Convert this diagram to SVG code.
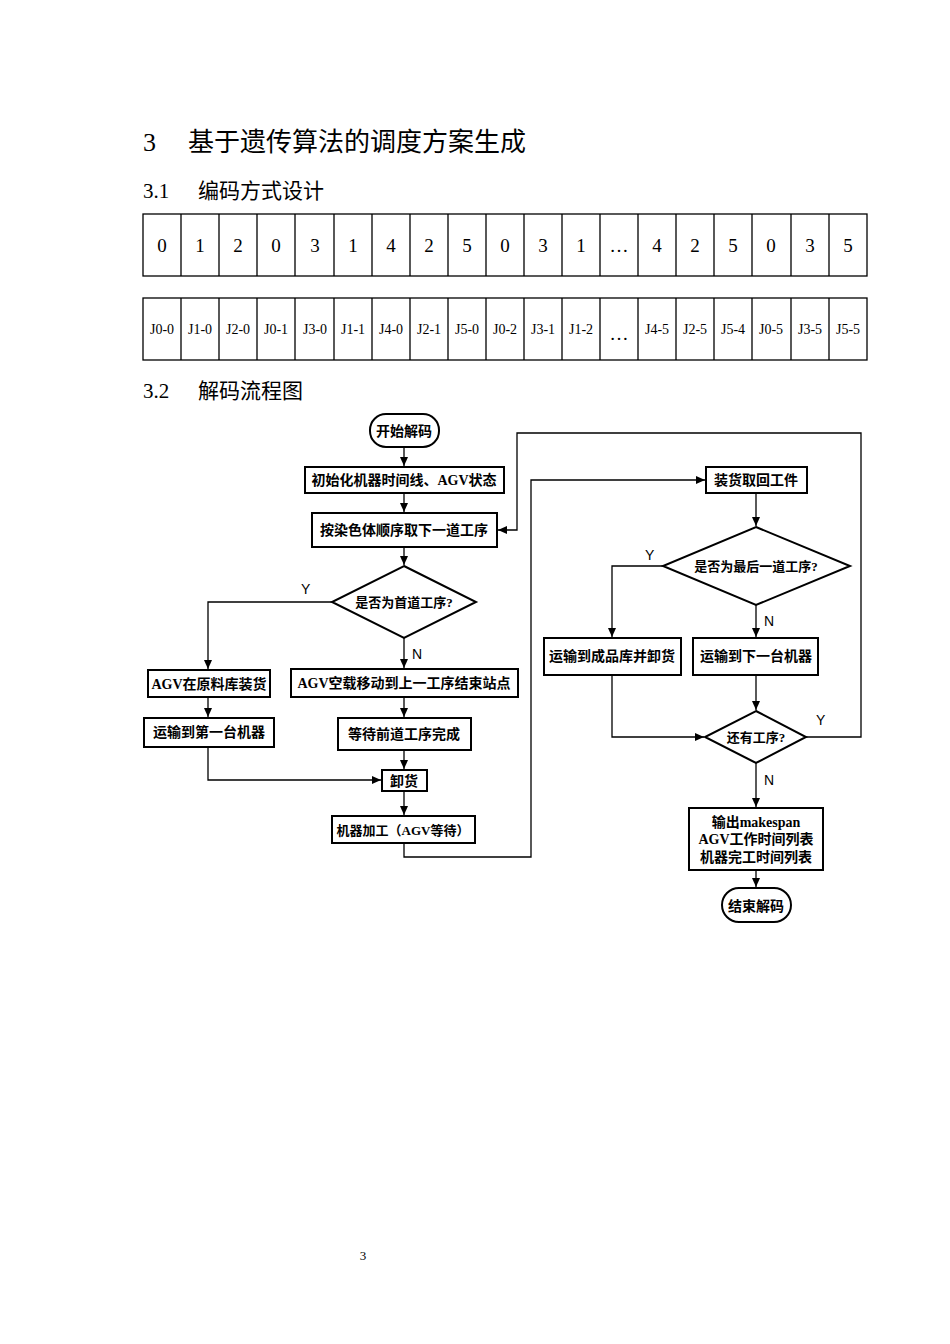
<svg xmlns="http://www.w3.org/2000/svg" width="950" height="1344" viewBox="0 0 950 1344">
<style>
text{font-family:"Liberation Serif","Noto Sans CJK SC",serif;fill:#000}
.h{font-size:26px}
.h2{font-size:21px}
.c{font-size:19px;text-anchor:middle}
.c2{font-size:14px;text-anchor:middle}
.n{fill:#fff;stroke:#000;stroke-width:2}
.t{font-size:14px;font-weight:bold;text-anchor:middle}
.yn{font-family:"Liberation Sans",sans-serif;font-size:14px}
.cn{fill:none;stroke:#000;stroke-width:1.3}
.cell{fill:none;stroke:#000;stroke-width:1.3}
</style>
<defs><marker id="a" markerWidth="10" markerHeight="10" refX="9" refY="5" orient="auto" markerUnits="userSpaceOnUse"><path d="M0,1 L9,5 L0,9 z" fill="#000"/></marker></defs>
<rect width="950" height="1344" fill="#fff"/>
<text x="143" y="151" class="h">3</text><text x="188" y="151" class="h">基于遗传算法的调度方案生成</text>
<text x="143" y="198" class="h2">3.1</text><text x="198" y="198" class="h2">编码方式设计</text>
<text x="143" y="398" class="h2">3.2</text><text x="198" y="398" class="h2">解码流程图</text>
<g id="table1">
<rect x="143" y="214" width="724" height="62" class="cell"/>
<path class="cell" d="M181,214V276M219,214V276M257,214V276M295,214V276M334,214V276M372,214V276M410,214V276M448,214V276M486,214V276M524,214V276M562,214V276M600,214V276M638,214V276M676,214V276M714,214V276M752,214V276M791,214V276M829,214V276"/>
<text y="252" class="c"><tspan x="162">0</tspan><tspan x="200">1</tspan><tspan x="238">2</tspan><tspan x="276">0</tspan><tspan x="315">3</tspan><tspan x="353">1</tspan><tspan x="391">4</tspan><tspan x="429">2</tspan><tspan x="467">5</tspan><tspan x="505">0</tspan><tspan x="543">3</tspan><tspan x="581">1</tspan><tspan x="619">…</tspan><tspan x="657">4</tspan><tspan x="695">2</tspan><tspan x="733">5</tspan><tspan x="771">0</tspan><tspan x="810">3</tspan><tspan x="848">5</tspan></text>
</g>
<g id="table2">
<rect x="143" y="298" width="724" height="62" class="cell"/>
<path class="cell" d="M181,298V360M219,298V360M257,298V360M295,298V360M334,298V360M372,298V360M410,298V360M448,298V360M486,298V360M524,298V360M562,298V360M600,298V360M638,298V360M676,298V360M714,298V360M752,298V360M791,298V360M829,298V360"/>
<text y="334" class="c2"><tspan x="162">J0-0</tspan><tspan x="200">J1-0</tspan><tspan x="238">J2-0</tspan><tspan x="276">J0-1</tspan><tspan x="315">J3-0</tspan><tspan x="353">J1-1</tspan><tspan x="391">J4-0</tspan><tspan x="429">J2-1</tspan><tspan x="467">J5-0</tspan><tspan x="505">J0-2</tspan><tspan x="543">J3-1</tspan><tspan x="581">J1-2</tspan><tspan x="657">J4-5</tspan><tspan x="695">J2-5</tspan><tspan x="733">J5-4</tspan><tspan x="771">J0-5</tspan><tspan x="810">J3-5</tspan><tspan x="848">J5-5</tspan></text>
<text x="619" y="340" class="c">…</text>
</g>
<g id="connectors">
<path class="cn" marker-end="url(#a)" d="M404,447V466"/>
<path class="cn" marker-end="url(#a)" d="M404,493V512"/>
<path class="cn" marker-end="url(#a)" d="M404,547V565"/>
<path class="cn" marker-end="url(#a)" d="M332,602H208V669"/>
<path class="cn" marker-end="url(#a)" d="M404,638V668"/>
<path class="cn" marker-end="url(#a)" d="M208,697V717"/>
<path class="cn" marker-end="url(#a)" d="M404,697V717"/>
<path class="cn" marker-end="url(#a)" d="M208,747V780H381"/>
<path class="cn" marker-end="url(#a)" d="M404,750V769"/>
<path class="cn" marker-end="url(#a)" d="M404,791V815"/>
<path class="cn" marker-end="url(#a)" d="M404,843V857H531V480H705"/>
<path class="cn" marker-end="url(#a)" d="M756,493V526"/>
<path class="cn" marker-end="url(#a)" d="M663,566H612V637"/>
<path class="cn" marker-end="url(#a)" d="M756,605V637"/>
<path class="cn" marker-end="url(#a)" d="M756,675V710"/>
<path class="cn" marker-end="url(#a)" d="M612,675V737H704"/>
<path class="cn" marker-end="url(#a)" d="M806,737H861V433H517V530H498"/>
<path class="cn" marker-end="url(#a)" d="M756,763V807"/>
<path class="cn" marker-end="url(#a)" d="M756,870V887"/>
<text x="301" y="594" class="yn">Y</text>
<text x="412" y="659" class="yn">N</text>
<text x="645" y="560" class="yn">Y</text>
<text x="764" y="626" class="yn">N</text>
<text x="816" y="725" class="yn">Y</text>
<text x="764" y="785" class="yn">N</text>
</g>
<g id="start"><rect x="370" y="414" width="69" height="33" rx="16" class="n"/><text x="404" y="436" class="t">开始解码</text></g>
<g id="init"><rect x="305" y="467" width="199" height="26" class="n"/><text x="404" y="485" class="t">初始化机器时间线、AGV状态</text></g>
<g id="next"><rect x="312" y="513" width="185" height="34" class="n"/><text x="404" y="535" class="t">按染色体顺序取下一道工序</text></g>
<g id="d1"><path d="M404,566L476,602L404,638L332,602Z" class="n"/><text x="404" y="607" class="t" style="font-size:13px">是否为首道工序?</text></g>
<g id="raw"><rect x="148" y="670" width="122" height="27" class="n"/><text x="209" y="689" class="t">AGV在原料库装货</text></g>
<g id="first"><rect x="144" y="718" width="130" height="29" class="n"/><text x="209" y="737" class="t">运输到第一台机器</text></g>
<g id="empty"><rect x="291" y="669" width="227" height="28" class="n"/><text x="404" y="688" class="t">AGV空载移动到上一工序结束站点</text></g>
<g id="wait"><rect x="338" y="718" width="133" height="32" class="n"/><text x="404" y="739" class="t">等待前道工序完成</text></g>
<g id="unload"><rect x="382" y="770" width="45" height="21" class="n"/><text x="404" y="786" class="t">卸货</text></g>
<g id="machine"><rect x="332" y="816" width="143" height="27" class="n"/><text x="403" y="835" class="t" style="font-size:13px">机器加工（AGV等待）</text></g>
<g id="load"><rect x="706" y="467" width="101" height="26" class="n"/><text x="756" y="485" class="t">装货取回工件</text></g>
<g id="d2"><path d="M756,527L850,566L756,605L663,566Z" class="n"/><text x="756" y="571" class="t" style="font-size:13px">是否为最后一道工序?</text></g>
<g id="fin"><rect x="544" y="638" width="137" height="37" class="n"/><text x="612" y="661" class="t">运输到成品库并卸货</text></g>
<g id="nextm"><rect x="693" y="638" width="125" height="37" class="n"/><text x="756" y="661" class="t">运输到下一台机器</text></g>
<g id="d3"><path d="M756,711L806,737L756,763L705,737Z" class="n"/><text x="756" y="742" class="t" style="font-size:13px">还有工序?</text></g>
<g id="out"><rect x="689" y="808" width="134" height="62" class="n"/><text x="756" y="827" class="t">输出makespan</text><text x="756" y="844" class="t">AGV工作时间列表</text><text x="756" y="862" class="t">机器完工时间列表</text></g>
<g id="end"><rect x="722" y="888" width="69" height="34" rx="17" class="n"/><text x="756" y="911" class="t">结束解码</text></g>
<text x="363" y="1260" style="font-size:13px;text-anchor:middle">3</text>
</svg>
